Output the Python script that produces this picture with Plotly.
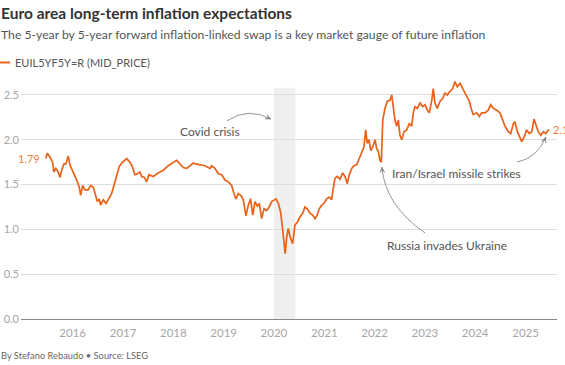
import plotly.graph_objects as go

# ---- data ----
dates = [
 "2015-06-20","2015-06-30","2015-07-19","2015-08-08","2015-08-17","2015-09-01","2015-09-18","2015-10-01",
 "2015-10-13","2015-10-30","2015-11-13","2015-11-30","2015-12-12","2016-01-05","2016-01-30","2016-02-18",
 "2016-02-28","2016-03-14","2016-03-30","2016-04-23","2016-05-11","2016-05-30","2016-06-11","2016-06-28",
 "2016-07-12","2016-07-22","2016-08-10","2016-08-30","2016-09-15","2016-10-10","2016-10-27","2016-11-15",
 "2016-12-04","2016-12-22","2017-01-15","2017-01-27","2017-02-20","2017-03-09","2017-03-28","2017-04-17",
 "2017-05-04","2017-05-16","2017-06-04","2017-06-21","2017-07-08","2017-08-08","2017-09-13","2017-10-20",
 "2017-11-25","2017-12-31","2018-01-25","2018-02-18","2018-03-14","2018-04-08","2018-05-02","2018-05-26",
 "2018-06-12","2018-07-13","2018-08-18","2018-09-24","2018-10-06","2018-10-30","2018-11-23","2018-12-18",
 "2019-01-11","2019-02-04","2019-02-28","2019-03-17","2019-04-01","2019-04-17","2019-05-05","2019-05-24",
 "2019-06-12","2019-06-29","2019-07-16","2019-07-31","2019-08-17","2019-09-02","2019-09-17","2019-10-04",
 "2019-10-21","2019-11-09","2019-11-28","2019-12-16","2020-01-01","2020-01-16","2020-02-02","2020-02-19",
 "2020-03-05","2020-03-14","2020-03-23","2020-04-03","2020-04-14","2020-04-27","2020-05-16","2020-06-02",
 "2020-06-19","2020-07-08","2020-07-28","2020-08-13","2020-08-30","2020-09-19","2020-10-08","2020-10-25",
 "2020-11-11","2020-11-25","2020-12-13","2020-12-29","2021-01-18","2021-02-06","2021-02-23","2021-03-07",
 "2021-03-19","2021-04-05","2021-04-25","2021-05-14","2021-05-31","2021-06-17","2021-07-01","2021-07-19",
 "2021-08-04","2021-08-24","2021-09-12","2021-09-29","2021-10-16","2021-10-28","2021-11-09","2021-11-21",
 "2021-12-04","2021-12-18","2022-01-04","2022-01-16","2022-01-28","2022-02-09","2022-02-19","2022-03-01",
 "2022-03-17","2022-04-03","2022-04-23","2022-05-05","2022-05-17","2022-05-29","2022-06-10","2022-06-22",
 "2022-07-04","2022-07-17","2022-08-02","2022-08-22","2022-09-10","2022-09-27","2022-10-09","2022-10-21",
 "2022-11-07","2022-11-27","2022-12-16","2023-01-02","2023-01-19","2023-02-02","2023-02-19","2023-03-03",
 "2023-03-15","2023-04-01","2023-04-21","2023-05-10","2023-05-27","2023-06-13","2023-07-02","2023-07-22",
 "2023-08-07","2023-08-24","2023-09-13","2023-10-02","2023-10-31","2023-11-19","2023-12-07","2023-12-18",
 "2024-01-12","2024-01-31","2024-02-17","2024-03-12","2024-04-05","2024-04-23","2024-05-12","2024-06-05",
 "2024-06-29","2024-07-19","2024-08-05","2024-08-28","2024-09-15","2024-10-04","2024-10-16","2024-11-02",
 "2024-11-22","2024-12-04","2024-12-21","2025-01-09","2025-01-28","2025-02-15","2025-03-03","2025-03-18",
 "2025-04-03","2025-04-21","2025-05-10","2025-05-29","2025-06-08","2025-06-22",
]
values = [
 1.79,1.85,1.81,1.75,1.64,1.68,1.64,1.58,
 1.66,1.73,1.73,1.82,1.72,1.64,1.55,1.47,
 1.38,1.49,1.44,1.44,1.49,1.47,1.40,1.31,
 1.34,1.27,1.33,1.29,1.33,1.40,1.49,1.59,
 1.70,1.74,1.77,1.79,1.75,1.70,1.61,1.62,
 1.64,1.59,1.58,1.53,1.61,1.59,1.63,1.66,
 1.71,1.74,1.77,1.73,1.69,1.68,1.71,1.74,
 1.73,1.72,1.71,1.68,1.71,1.68,1.62,1.61,
 1.55,1.53,1.49,1.40,1.34,1.40,1.38,1.33,
 1.15,1.27,1.34,1.16,1.31,1.26,1.29,1.12,
 1.23,1.21,1.25,1.31,1.33,1.34,1.29,1.19,
 0.99,0.88,0.73,0.92,1.01,0.92,0.84,1.05,
 1.08,1.14,1.18,1.25,1.23,1.18,1.16,1.12,
 1.16,1.23,1.27,1.29,1.34,1.36,1.33,1.46,
 1.57,1.59,1.56,1.63,1.59,1.51,1.61,1.68,
 1.71,1.72,1.79,1.85,1.92,2.11,1.96,2.00,
 1.88,1.92,2.00,1.90,1.87,1.77,1.75,2.22,
 2.35,2.43,2.44,2.50,2.37,2.22,2.15,2.22,
 2.05,2.00,2.09,2.11,2.18,2.15,2.30,2.37,
 2.35,2.41,2.37,2.39,2.33,2.30,2.43,2.57,
 2.41,2.35,2.43,2.46,2.52,2.50,2.54,2.57,
 2.65,2.59,2.63,2.57,2.48,2.43,2.33,2.28,
 2.30,2.26,2.30,2.30,2.33,2.39,2.35,2.33,
 2.30,2.22,2.15,2.09,2.07,2.18,2.20,2.09,
 2.03,1.98,2.03,2.11,2.07,2.09,2.23,2.15,
 2.09,2.05,2.09,2.07,2.10,2.11,
]
year_labels = [str(y) for y in range(2016, 2026)]
year_ticks = [f"{y}-01-01" for y in range(2016, 2026)]
y_ticks = [0.0, 0.5, 1.0, 1.5, 2.0, 2.5]
series_name = "EUIL5YF5Y=R (MID_PRICE)"
covid_band = ("2020-01-01", "2020-06-05")

ORANGE = "#e8621a"
W, H = 565, 365
ML, MR, MT, MB = 21, 8, 77, 46

def px(xp):
    return (xp - ML) / (W - ML - MR)

def py(yp):
    return (H - MB - yp) / (H - MT - MB)

fig = go.Figure()
fig.add_trace(go.Scatter(x=dates, y=values, mode="lines",
                         line=dict(color=ORANGE, width=1.7), showlegend=False,
                         hoverinfo="skip"))

shapes = [
    dict(type="rect", xref="x", yref="y", x0=covid_band[0], x1=covid_band[1],
         y0=0, y1=2.58, fillcolor="#efefef", line=dict(width=0), layer="below"),
    # legend swatch
    dict(type="line", xref="paper", yref="paper", x0=px(0), x1=px(10),
         y0=py(62.5), y1=py(62.5), line=dict(color=ORANGE, width=2)),
    # curved arrows
    dict(type="path", xref="x", yref="y",
         path="M2019-01-25,2.21 Q2019-06-27,2.37 2019-12-11,2.23",
         line=dict(color="#777777", width=0.8)),
    dict(type="path", xref="x", yref="y",
         path="M2023-01-02,0.96 Q2022-03-17,1.27 2022-02-23,1.695",
         line=dict(color="#777777", width=0.8)),
    dict(type="path", xref="x", yref="y",
         path="M2024-10-31,1.75 Q2025-03-24,1.795 2025-05-29,2.03",
         line=dict(color="#777777", width=0.8)),
]

ann = []
def text_ann(text, xp_, yp_, size, color, bold=False, anchor="left"):
    ann.append(dict(text=f"<b>{text}</b>" if bold else text, xref="paper", yref="paper",
                    x=px(xp_), y=py(yp_), xanchor=anchor, yanchor="middle",
                    showarrow=False, font=dict(size=size, color=color, family="Lato")))

text_ann("Euro area long-term inflation expectations", -1, 12.5, 15.5, "#333333", bold=True)
text_ann("The 5-year by 5-year forward inflation-linked swap is a key market gauge of future inflation",
         -1, 34, 12.2, "#555555")
text_ann(series_name, 13, 63, 11, "#555555")
text_ann("By Stefano Rebaudo \u2022 Source: LSEG", -1, 355.5, 9.3, "#666666")

# event labels
for t, d, v in [("Covid crisis", "2018-09-25", 2.09),
                ("Russia invades Ukraine", "2023-06-10", 0.82),
                ("Iran/Israel missile strikes", "2023-08-15", 1.625)]:
    ann.append(dict(text=t, x=d, y=v, xref="x", yref="y", showarrow=False,
                    xanchor="center", yanchor="middle",
                    font=dict(size=12, color="#555555", family="Lato")))

# arrow heads
for d, v, ax, ay in [("2019-12-11", 2.23, -5.4, -2.6),
                     ("2022-02-23", 1.695, 0.5, 6),
                     ("2025-05-29", 2.03, -2.4, 5.5)]:
    ann.append(dict(text="", x=d, y=v, xref="x", yref="y", showarrow=True,
                    ax=ax, ay=ay, arrowhead=5, arrowsize=1.1, arrowwidth=0.8,
                    arrowcolor="#777777"))

# first / last value labels
ann.append(dict(text=f"{values[0]:.2f}", x=dates[0], y=values[0], xref="x", yref="y",
                showarrow=False, xanchor="right", yanchor="middle", xshift=-4,
                font=dict(size=11, color="#ef7d3c", family="Lato")))
ann.append(dict(text=f"{values[-1]:.1f}", x=dates[-1], y=values[-1], xref="x", yref="y",
                showarrow=False, xanchor="left", yanchor="middle", xshift=2,
                font=dict(size=11, color="#ef7d3c", family="Lato")))

fig.update_layout(
    width=W, height=H, margin=dict(l=ML, r=MR, t=MT, b=MB, pad=0, autoexpand=False),
    paper_bgcolor="white", plot_bgcolor="white",
    font=dict(family="Lato", color="#999999"),
    shapes=shapes, annotations=ann, showlegend=False,
    xaxis=dict(type="date", range=["2014-12-22", "2025-08-17"], automargin=False,
               tickvals=year_ticks, ticktext=year_labels,
               showgrid=False, zeroline=False, showline=True,
               linecolor="#888888", linewidth=1.2,
               ticks="outside", ticklen=3, tickcolor="rgba(0,0,0,0)",
               tickfont=dict(size=11.5, color="#a6a6a6", family="Lato")),
    yaxis=dict(range=[0, 2.7], tickvals=y_ticks, tickformat=".1f", automargin=False,
               showgrid=True, gridcolor="#dddddd", gridwidth=1,
               zeroline=False, showline=False,
               ticks="", ticklabelstandoff=1,
               tickfont=dict(size=11, color="#a6a6a6", family="Lato")),
)

fig.write_html("out.html", config={"displayModeBar": False},
               post_script="document.body.style.margin='0';document.body.style.overflow='hidden';")
